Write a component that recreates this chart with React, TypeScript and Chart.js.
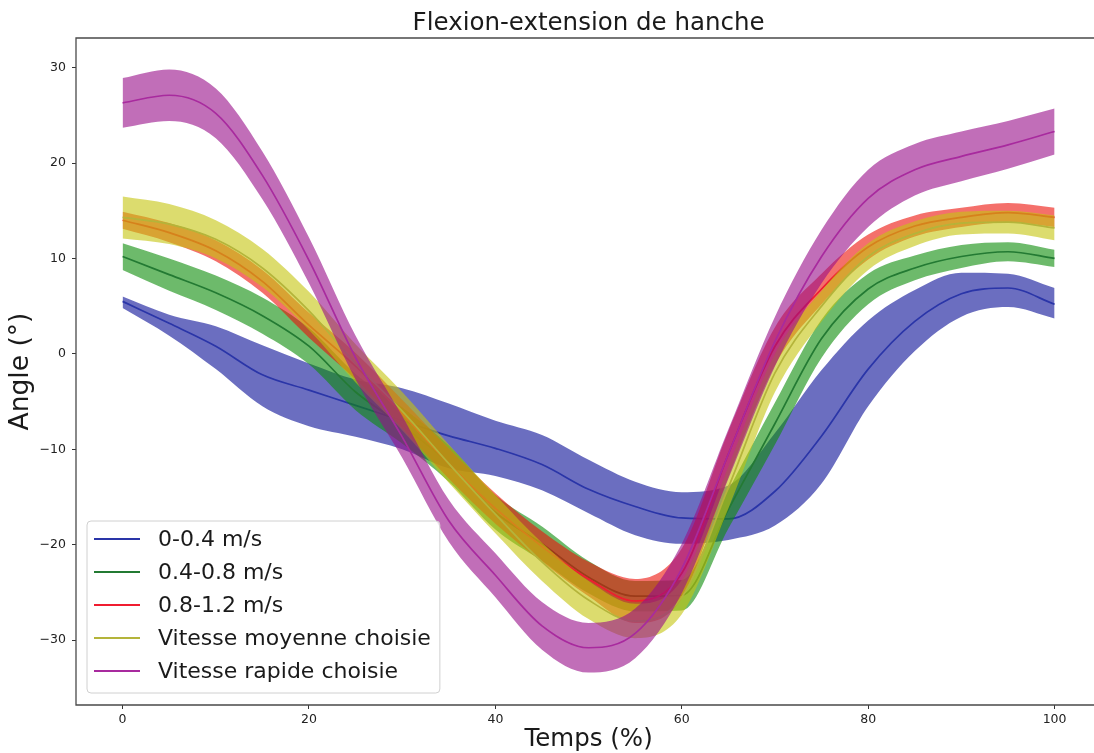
import React, { useEffect, useRef } from 'react';
import { Chart, registerables } from 'chart.js';

Chart.register(...registerables);

const FONT = "'DejaVu Sans', sans-serif";

const titleText = 'Flexion-extension de hanche';
const xTitle = 'Temps (%)';
const yTitle = 'Angle (°)';

const xValues = [0, 5, 10, 15, 20, 25, 30, 35, 40, 45, 50, 55, 60, 65, 70, 75, 80, 85, 90, 95, 100];
const xTicks = [0, 20, 40, 60, 80, 100];
const yTicks = [-30, -20, -10, 0, 10, 20, 30];

const seriesLabels = ['0-0.4 m/s', '0.4-0.8 m/s', '0.8-1.2 m/s', 'Vitesse moyenne choisie', 'Vitesse rapide choisie'];

// 0-0.4 m/s
const blueMean = [5.5, 3.2, 0.8, -2.2, -3.8, -5.4, -7.0, -8.6, -9.9, -11.6, -14.2, -16.0, -17.2, -17.3, -14.4, -8.6, -1.6, 3.4, 6.3, 6.9, 5.2];
const blueLow = [4.8, 1.9, -1.6, -5.5, -7.6, -8.7, -10.0, -12.0, -12.8, -14.3, -16.7, -19.0, -19.9, -19.5, -18.0, -13.6, -5.5, 0.3, 3.9, 4.9, 3.7];
const blueHigh = [6.0, 4.1, 2.9, 0.9, -1.0, -2.7, -3.6, -5.2, -7.0, -8.5, -11.1, -13.4, -14.5, -13.8, -8.3, -1.7, 3.5, 6.7, 8.5, 8.4, 6.9];

// 0.4-0.8 m/s
const greenMean = [10.2, 8.3, 6.4, 4.0, 0.8, -4.0, -7.5, -11.5, -16.6, -19.9, -23.4, -25.4, -25.3, -16.3, -7.3, 1.6, 6.8, 9.0, 10.2, 10.7, 10.0];
const greenLow = [8.8, 6.6, 4.6, 2.1, -1.1, -5.9, -9.4, -13.4, -18.4, -21.7, -25.1, -27.0, -26.9, -18.3, -9.5, -0.4, 5.2, 7.7, 9.0, 9.7, 9.1];
const greenHigh = [11.6, 10.0, 8.2, 5.9, 2.7, -2.1, -5.6, -9.6, -14.8, -18.1, -21.7, -23.8, -23.7, -14.3, -5.1, 3.6, 8.4, 10.3, 11.4, 11.7, 10.9];

// 0.8-1.2 m/s
const redMean = [14.0, 12.7, 10.8, 7.6, 3.0, -1.3, -6.3, -11.5, -16.2, -20.2, -23.6, -25.9, -23.0, -10.5, 0.8, 6.8, 11.2, 13.4, 14.3, 14.8, 14.3];
const redLow = [13.1, 11.7, 9.7, 6.4, 1.7, -2.7, -7.8, -13.1, -17.8, -21.8, -25.4, -28.2, -25.6, -12.9, -1.2, 5.2, 9.9, 12.3, 13.3, 13.8, 13.3];
const redHigh = [14.9, 13.7, 11.9, 8.8, 4.3, 0.1, -4.8, -9.9, -14.6, -18.6, -21.8, -23.6, -20.4, -8.1, 2.8, 8.4, 12.5, 14.5, 15.3, 15.8, 15.3];

// Vitesse moyenne choisie
const yellowMean = [14.3, 13.6, 12.0, 9.0, 4.5, -1.0, -6.0, -11.5, -16.8, -21.8, -25.8, -28.0, -25.5, -14.0, -2.0, 5.0, 10.2, 12.6, 13.7, 13.8, 13.2];
const yellowLow = [12.1, 11.5, 10.0, 7.0, 2.5, -3.0, -8.0, -13.5, -18.8, -23.8, -27.8, -29.8, -27.3, -16.2, -4.0, 3.4, 8.8, 11.3, 12.5, 12.6, 11.9];
const yellowHigh = [16.5, 15.7, 14.0, 11.0, 6.5, 1.0, -4.0, -9.5, -14.8, -19.8, -23.8, -26.2, -23.7, -11.8, 0.0, 6.6, 11.6, 13.9, 14.9, 15.0, 14.5];

// Vitesse rapide choisie
const magentaMean = [26.3, 27.1, 25.2, 18.7, 9.8, -0.4, -8.7, -17.5, -23.2, -28.5, -30.8, -29.3, -22.5, -10.5, 1.3, 10.2, 16.3, 19.3, 20.7, 21.9, 23.3];
const magentaLow = [23.7, 24.4, 22.6, 16.2, 7.4, -2.7, -10.9, -19.7, -25.5, -31.0, -33.4, -31.9, -25.1, -13.1, -1.3, 7.4, 13.3, 16.6, 18.1, 19.4, 20.9];
const magentaHigh = [28.9, 29.8, 27.8, 21.2, 12.2, 1.9, -6.5, -15.3, -20.9, -26.0, -28.2, -26.7, -19.9, -7.9, 3.9, 13.0, 19.3, 22.0, 23.3, 24.4, 25.7];

const lineColors = ['#2a35a8', '#237a33', '#f01c30', '#b4b43a', '#a82a9e'];
const fillColors = [
  'rgba(8,14,150,0.6)',
  'rgba(12,140,8,0.6)',
  'rgba(236,16,8,0.6)',
  'rgba(196,196,14,0.6)',
  'rgba(152,14,136,0.6)',
];

const seriesMeans = [blueMean, greenMean, redMean, yellowMean, magentaMean];
const seriesLows = [blueLow, greenLow, redLow, yellowLow, magentaLow];
const seriesHighs = [blueHigh, greenHigh, redHigh, yellowHigh, magentaHigh];

const toPts = (arr: number[]) => arr.map((y, i) => ({ x: xValues[i], y }));

const buildDatasets = () => {
  const ds: any[] = [];
  seriesMeans.forEach((mean, i) => {
    const base = 100 - i * 3;
    const common = {
      pointRadius: 0,
      pointHoverRadius: 0,
      cubicInterpolationMode: 'monotone',
      spanGaps: false,
    };
    ds.push({
      ...common,
      label: seriesLabels[i] + ' high',
      data: toPts(seriesHighs[i]),
      borderWidth: 0,
      borderColor: 'transparent',
      backgroundColor: 'transparent',
      fill: false,
      order: base,
    });
    ds.push({
      ...common,
      label: seriesLabels[i] + ' low',
      data: toPts(seriesLows[i]),
      borderWidth: 0,
      borderColor: 'transparent',
      backgroundColor: fillColors[i],
      fill: '-1',
      order: base - 1,
    });
    ds.push({
      ...common,
      label: seriesLabels[i],
      data: toPts(mean),
      borderWidth: 1.7,
      borderColor: lineColors[i],
      backgroundColor: lineColors[i],
      fill: false,
      order: base - 2,
    });
  });
  return ds;
};

// spines: top, left, bottom (the right spine lies beyond the visible page)
const framePlugin = {
  id: 'frame',
  afterDatasetsDraw(chart: any) {
    const { ctx, chartArea } = chart;
    ctx.save();
    ctx.strokeStyle = '#4a4a4a';
    ctx.lineWidth = 1.3;
    ctx.beginPath();
    ctx.moveTo(chartArea.right + 2, chartArea.top);
    ctx.lineTo(chartArea.left, chartArea.top);
    ctx.lineTo(chartArea.left, chartArea.bottom);
    ctx.lineTo(chartArea.right + 2, chartArea.bottom);
    ctx.stroke();
    ctx.restore();
  },
};

const titlePlugin = {
  id: 'plotTitle',
  afterDraw(chart: any) {
    const { ctx, chartArea, scales } = chart;
    ctx.save();
    ctx.font = `24.5px ${FONT}`;
    ctx.fillStyle = '#1a1a1a';
    ctx.textAlign = 'center';
    ctx.textBaseline = 'alphabetic';
    const cx = (scales.x.getPixelForValue(-5) + scales.x.getPixelForValue(105)) / 2;
    ctx.fillText(titleText, cx, chartArea.top - 8);
    ctx.restore();
  },
};

const legendPlugin = {
  id: 'boxLegend',
  afterDraw(chart: any) {
    const { ctx, chartArea } = chart;
    const fontSize = 22;
    const rowH = 33;
    ctx.save();
    ctx.font = `${fontSize}px ${FONT}`;
    let maxW = 0;
    seriesLabels.forEach((l) => {
      maxW = Math.max(maxW, ctx.measureText(l).width);
    });
    const left = chartArea.left + 11;
    const bottom = chartArea.bottom - 12;
    const height = rowH * seriesLabels.length + 7;
    const top = bottom - height;
    const width = 71 + maxW + 9;
    const r = 4;
    ctx.beginPath();
    ctx.moveTo(left + r, top);
    ctx.lineTo(left + width - r, top);
    ctx.quadraticCurveTo(left + width, top, left + width, top + r);
    ctx.lineTo(left + width, bottom - r);
    ctx.quadraticCurveTo(left + width, bottom, left + width - r, bottom);
    ctx.lineTo(left + r, bottom);
    ctx.quadraticCurveTo(left, bottom, left, bottom - r);
    ctx.lineTo(left, top + r);
    ctx.quadraticCurveTo(left, top, left + r, top);
    ctx.closePath();
    ctx.fillStyle = 'rgba(255,255,255,0.8)';
    ctx.fill();
    ctx.strokeStyle = '#d0d0d0';
    ctx.lineWidth = 1;
    ctx.stroke();
    seriesLabels.forEach((l, i) => {
      const cy = top + 18 + i * rowH;
      ctx.beginPath();
      ctx.moveTo(left + 7, cy);
      ctx.lineTo(left + 53, cy);
      ctx.strokeStyle = lineColors[i];
      ctx.lineWidth = 2;
      ctx.stroke();
      ctx.fillStyle = '#1a1a1a';
      ctx.textAlign = 'left';
      ctx.textBaseline = 'middle';
      ctx.fillText(l, left + 71, cy + 1);
    });
    ctx.restore();
  },
};

const minusFmt = (v: number) => (v < 0 ? '\u2212' + Math.abs(v) : String(v));

export default function App() {
  const ref = useRef<HTMLCanvasElement>(null);
  useEffect(() => {
    if (!ref.current) return;
    const chart = new Chart(ref.current, {
      type: 'line',
      data: { datasets: buildDatasets() },
      options: {
        responsive: false,
        maintainAspectRatio: false,
        animation: false,
        devicePixelRatio: 1,
        events: [],
        layout: { padding: { left: 0, top: 38, right: 0, bottom: 0 } },
        plugins: {
          legend: { display: false },
          tooltip: { enabled: false },
          title: { display: false },
        },
        scales: {
          x: {
            type: 'linear',
            min: -5,
            max: 104.23,
            afterBuildTicks: (s: any) => {
              s.ticks = xTicks.map((v) => ({ value: v }));
            },
            afterFit: (s: any) => {
              s.height = 48;
            },
            ticks: {
              font: { family: FONT, size: 12.5 },
              color: '#222',
              padding: 3,
              maxRotation: 0,
              autoSkip: false,
              callback: (v: any) => minusFmt(Number(v)),
            },
            grid: { drawOnChartArea: false, drawTicks: true, tickLength: 4, color: '#333', tickWidth: 1 },
            border: { display: false },
            title: { display: false },
          },
          y: {
            type: 'linear',
            min: -36.8,
            max: 33.1,
            afterBuildTicks: (s: any) => {
              s.ticks = yTicks.map((v) => ({ value: v }));
            },
            afterFit: (s: any) => {
              s.width = 76;
            },
            ticks: {
              font: { family: FONT, size: 12.5 },
              color: '#222',
              padding: 6,
              autoSkip: false,
              callback: (v: any) => minusFmt(Number(v)),
            },
            grid: { drawOnChartArea: false, drawTicks: true, tickLength: 4, color: '#333', tickWidth: 1 },
            border: { display: false },
            title: {
              display: true,
              text: yTitle,
              font: { family: FONT, size: 26.5 },
              color: '#1a1a1a',
              padding: { top: 5, bottom: 0 },
            },
          },
        },
      },
      plugins: [
        framePlugin,
        titlePlugin,
        legendPlugin,
        {
          id: 'xTitle',
          afterDraw(chart: any) {
            const { ctx, scales } = chart;
            ctx.save();
            ctx.font = `24.5px ${FONT}`;
            ctx.fillStyle = '#1a1a1a';
            ctx.textAlign = 'center';
            ctx.textBaseline = 'middle';
            const cx = (scales.x.getPixelForValue(-5) + scales.x.getPixelForValue(105)) / 2;
            ctx.fillText(xTitle, cx, chart.height - 13.2);
            ctx.restore();
          },
        },
      ],
    } as any);
    return () => chart.destroy();
  }, []);
  return (
    <div style={{ position: 'fixed', left: 0, top: 0, width: 1094, height: 753, overflow: 'hidden', background: '#fff' }}>
      <canvas ref={ref} width={1094} height={753} style={{ display: 'block', width: 1094, height: 753 }} />
    </div>
  );
}
